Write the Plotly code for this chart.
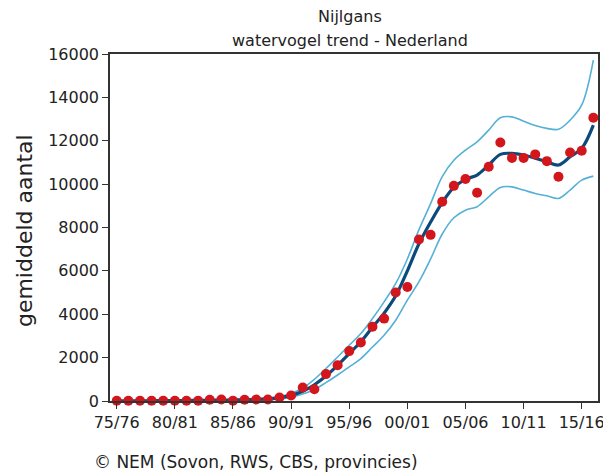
import plotly.graph_objects as go

# seizoenen 1975/76 .. 2016/17
seasons = [f"{y % 100:02d}/{(y + 1) % 100:02d}" for y in range(1975, 2017)]

counts = [10, 10, 10, 10, 10, 10, 10, 15, 60, 70,
          10, 60, 70, 70, 160, 250, 620, 540, 1240, 1650,
          2300, 2700, 3420, 3800, 5000, 5260, 7450, 7660, 9190, 9920,
          10240, 9600, 10800, 11920, 11210, 11210, 11370, 11060, 10340, 11460,
          11540, 13060]

trend = [5, 7, 9, 12, 15, 18, 22, 27, 33, 40,
         48, 58, 72, 95, 150, 260, 450, 750, 1150, 1650,
         2190, 2730, 3400, 4050, 4850, 6000, 7250, 8250, 9150, 9850,
         10220, 10420, 10880, 11370, 11420, 11340, 11190, 11030, 10880, 11260,
         11650, 12720]

upper = [10, 12, 15, 18, 22, 26, 31, 38, 46, 55,
         66, 80, 100, 135, 210, 350, 600, 1000, 1500, 2030,
         2570, 3110, 3800, 4570, 5420, 6550, 7900, 9100, 10350, 11100,
         11570, 11950, 12490, 13060, 13100, 12900, 12700, 12570, 12530, 12950,
         13650, 15720]

lower = [2, 3, 4, 6, 8, 10, 13, 17, 21, 26,
         32, 39, 48, 62, 100, 180, 320, 530, 850, 1200,
         1570, 1955, 2490, 3030, 3725, 4650, 5500, 6550, 7700, 8450,
         8800, 8960, 9415, 9850, 9875, 9725, 9570, 9460, 9340, 9725,
         10185, 10370]

tick_labels = seasons[::5]

FONT = "DejaVu Sans"
TXT = "#222"

fig = go.Figure()
for band in (upper, lower):
    fig.add_trace(go.Scatter(x=seasons, y=band, mode="lines", line_shape="spline",
                             line=dict(color="#55b0d6", width=1.6), hoverinfo="skip"))
fig.add_trace(go.Scatter(x=seasons, y=trend, mode="lines", line_shape="spline",
                         line=dict(color="#0d4a7c", width=3.2)))
fig.add_trace(go.Scatter(x=seasons, y=counts, mode="markers", cliponaxis=False,
                         marker=dict(color="#d3151c", size=10)))

# the page body adds an 8px margin, so the figure is sized and placed to suit
fig.update_layout(
    width=603, height=465,
    margin=dict(l=102, r=13, t=46, b=72, autoexpand=False),
    paper_bgcolor="white", plot_bgcolor="white",
    showlegend=False,
    font=dict(family=FONT, size=16, color=TXT),
)
fig.update_xaxes(type="category", range=[-0.58, 41.4],
                 tickvals=tick_labels, ticktext=tick_labels,
                 showline=True, mirror=True, linecolor="#333", linewidth=1.5,
                 ticks="outside", ticklen=6, tickcolor="#333", showgrid=False,
                 tickfont=dict(size=16))
fig.update_yaxes(range=[0, 16000], dtick=2000, tickformat="d",
                 showline=True, mirror=True, linecolor="#333", linewidth=1.5,
                 ticks="outside", ticklen=6, tickcolor="#333", showgrid=False,
                 zeroline=False, tickfont=dict(size=16))

fig.add_annotation(text="Nijlgans", xref="paper", yref="paper",
                   x=0.492, y=1.107, xanchor="center", yanchor="middle",
                   showarrow=False, font=dict(size=16, color=TXT))
fig.add_annotation(text="watervogel trend - Nederland", xref="paper", yref="paper",
                   x=0.492, y=1.04, xanchor="center", yanchor="middle",
                   showarrow=False, font=dict(size=16, color=TXT))
fig.add_annotation(text="gemiddeld aantal", textangle=-90,
                   xref="paper", yref="paper", x=-0.174, y=0.49,
                   xanchor="center", yanchor="middle", showarrow=False,
                   font=dict(size=22, color=TXT))
fig.add_annotation(text="© NEM (Sovon, RWS, CBS, provincies)",
                   xref="paper", yref="paper", x=-0.037, y=-0.176,
                   xanchor="left", yanchor="middle", showarrow=False,
                   font=dict(size=17, color=TXT))

fig.write_html("out.html")
